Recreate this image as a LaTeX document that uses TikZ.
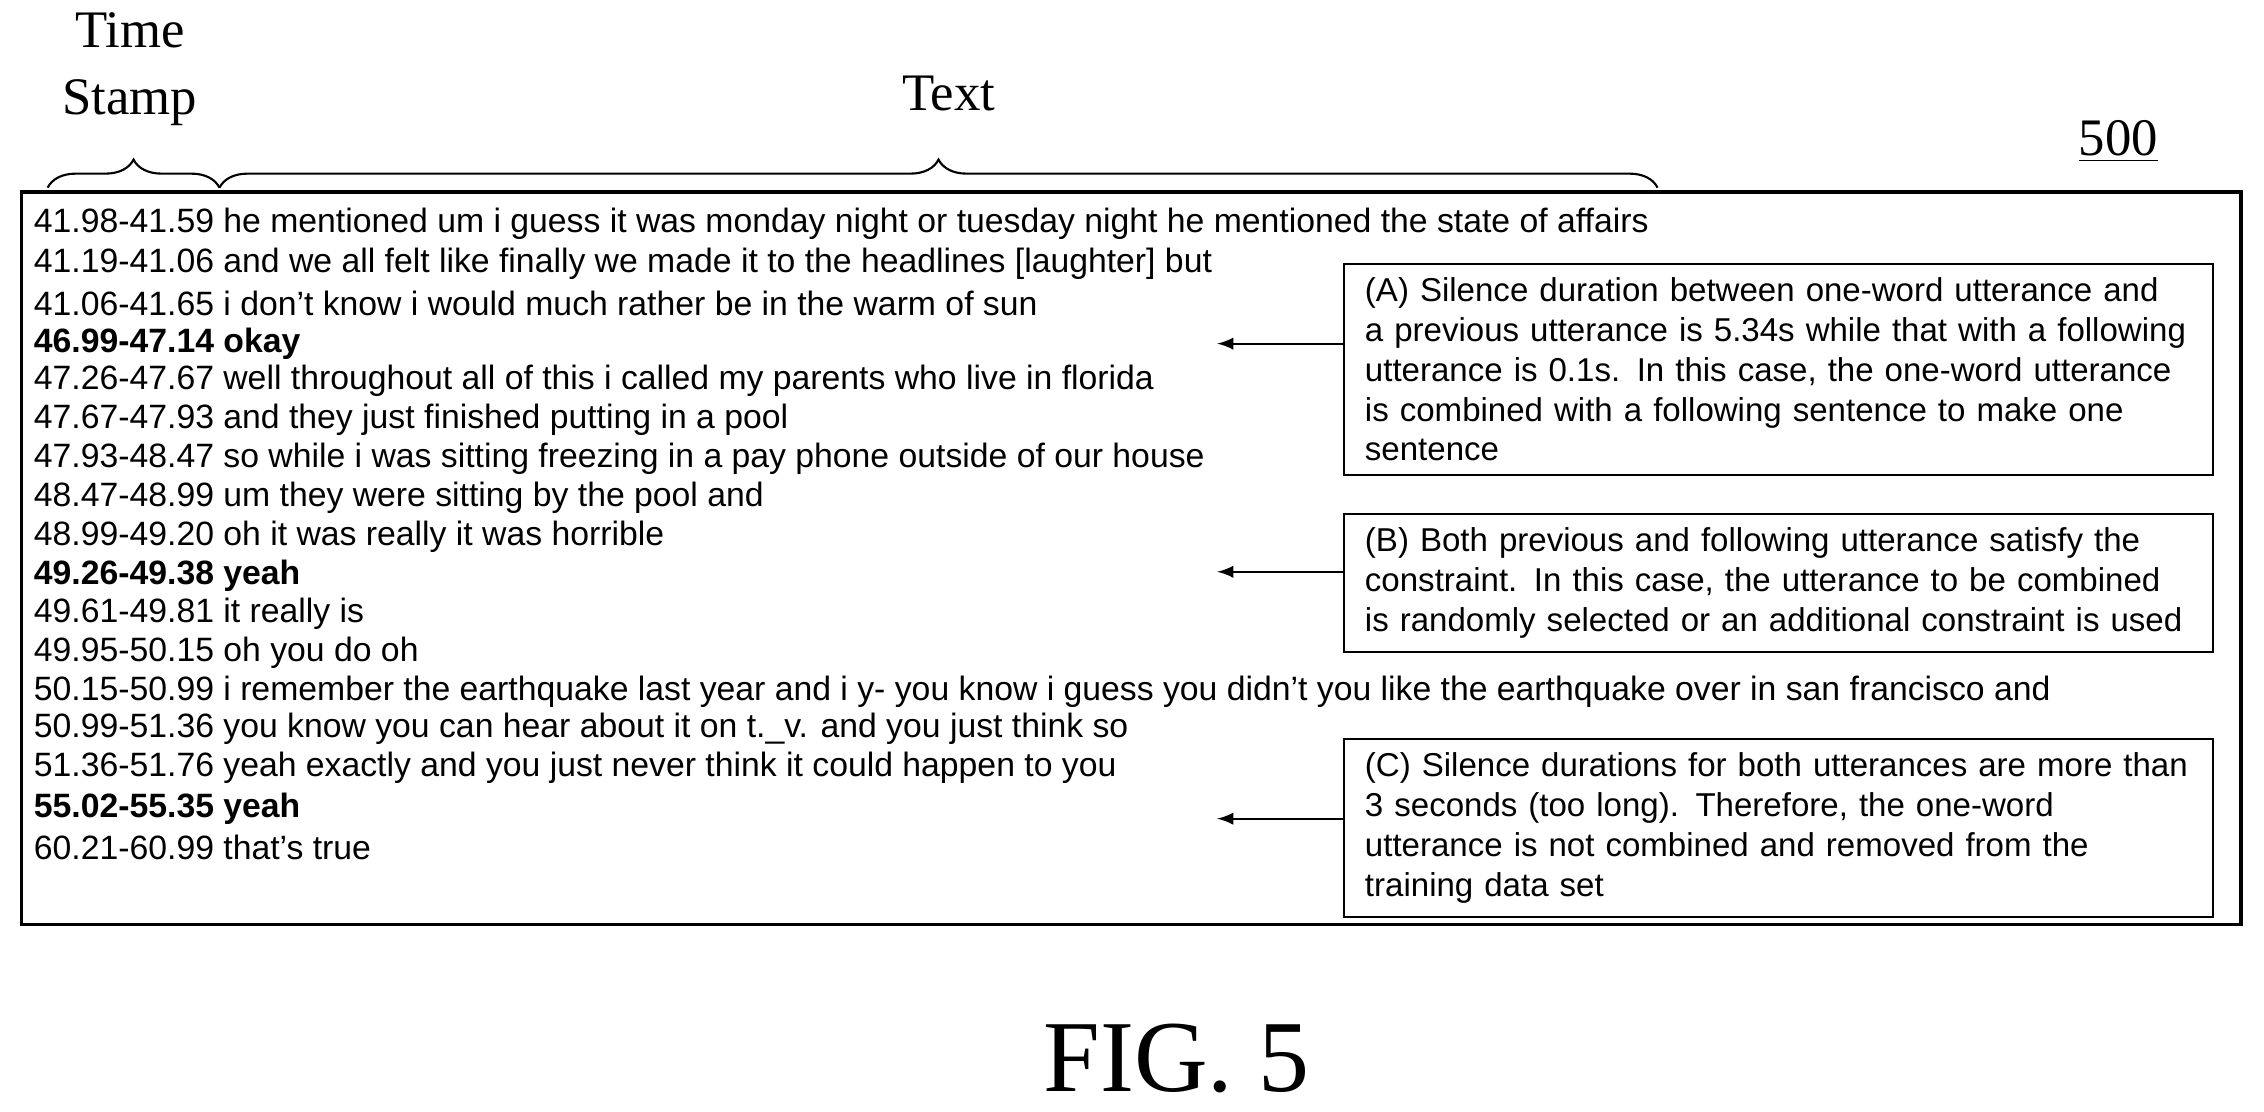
\documentclass[tikz,border=0pt]{standalone}
\usepackage{fontspec}
\setmainfont{Liberation Serif}
\setsansfont{Liberation Sans}
\usetikzlibrary{positioning, decorations.pathreplacing}

\tikzset{
    line/.style={anchor=west, inner sep=0pt, font=\sffamily\fontsize{9.6}{11}\selectfont},
    boldline/.style={line, font=\sffamily\bfseries\fontsize{9.6}{11}\selectfont},
    note/.style={draw, line width=0.6pt, anchor=north west, inner xsep=6pt, inner ysep=4pt,
        text width=8.69cm-12pt, align=left, font=\sffamily\fontsize{9.4}{11.3}\selectfont},
    hbrace/.style={decorate, decoration={brace, amplitude=8pt}, line width=0.6pt},
}

\begin{document}
\begin{tikzpicture}[x=0.01444cm, y=-0.01444cm]
    \useasboundingbox (0,0) rectangle (1568,770);
    % headers
    \node[align=center, font=\fontsize{15}{19}\selectfont] (stamp) at (90,48) {Time\\Stamp};
    \node[font=\fontsize{15}{19}\selectfont] (txt) at (657,65) {Text};
    \node[font=\fontsize{15}{19}\selectfont] (num) at (1467,98) {\underline{500}};
    \draw[hbrace] (33,130) -- (152,130);
    \draw[hbrace] (152,130) -- (1148,130);
    % frame
    \draw[line width=0.9pt] (15,133) rectangle (1552,640);
    % transcript
    \node[line] (l1) at (23,155) {41.98-41.59 he mentioned um i guess it was monday night or tuesday night he mentioned the state of affairs};
    \node[line] (l2) at (23,183) {41.19-41.06 and we all felt like finally we made it to the headlines [laughter] but};
    \node[line] (l3) at (23,210) {41.06-41.65 i don't know i would much rather be in the warm of sun};
    \node[boldline] (l4) at (23,238) {46.99-47.14 okay};
    \node[line] (l5) at (23,264) {47.26-47.67 well throughout all of this i called my parents who live in florida};
    \node[line] (l6) at (23,291) {47.67-47.93 and they just finished putting in a pool};
    \node[line] (l7) at (23,318) {47.93-48.47 so while i was sitting freezing in a pay phone outside of our house};
    \node[line] (l8) at (23,345) {48.47-48.99 um they were sitting by the pool and};
    \node[line] (l9) at (23,372) {48.99-49.20 oh it was really it was horrible};
    \node[boldline] (l10) at (23,399) {49.26-49.38 yeah};
    \node[line] (l11) at (23,425) {49.61-49.81 it really is};
    \node[line] (l12) at (23,452) {49.95-50.15 oh you do oh};
    \node[line] (l13) at (23,479) {50.15-50.99 i remember the earthquake last year and i y- you know i guess you didn't you like the earthquake over in san francisco and};
    \node[line] (l14) at (23,505) {50.99-51.36 you know you can hear about it on t.\_v. and you just think so};
    \node[line] (l15) at (23,532) {51.36-51.76 yeah exactly and you just never think it could happen to you};
    \node[boldline] (l16) at (23,560) {55.02-55.35 yeah};
    \node[line] (l17) at (23,587) {60.21-60.99 that's true};
    % notes
    \node[note] (na) at (930,182) {(A) Silence duration between one-word utterance and\\a previous utterance is 5.34s while that with a following\\utterance is 0.1s. In this case, the one-word utterance\\is combined with a following sentence to make one\\sentence};
    \node[note] (nb) at (930,355) {(B) Both previous and following utterance satisfy the\\constraint. In this case, the utterance to be combined\\is randomly selected or an additional constraint is used};
    \node[note] (nc) at (930,511) {(C) Silence durations for both utterances are more than\\3 seconds (too long). Therefore, the one-word\\utterance is not combined and removed from the\\training data set};
    \coordinate (ta) at (843,238);
    \coordinate (tb) at (843,396);
    \coordinate (tc) at (843,567);
    \draw[-latex, line width=0.6pt] (na.west |- ta) -- (ta);
    \draw[-latex, line width=0.6pt] (nb.west |- tb) -- (tb);
    \draw[-latex, line width=0.6pt] (nc.west |- tc) -- (tc);
    % caption
    \node[font=\fontsize{29}{34}\selectfont] (fig) at (815,733) {FIG. 5};
\end{tikzpicture}
\end{document}
